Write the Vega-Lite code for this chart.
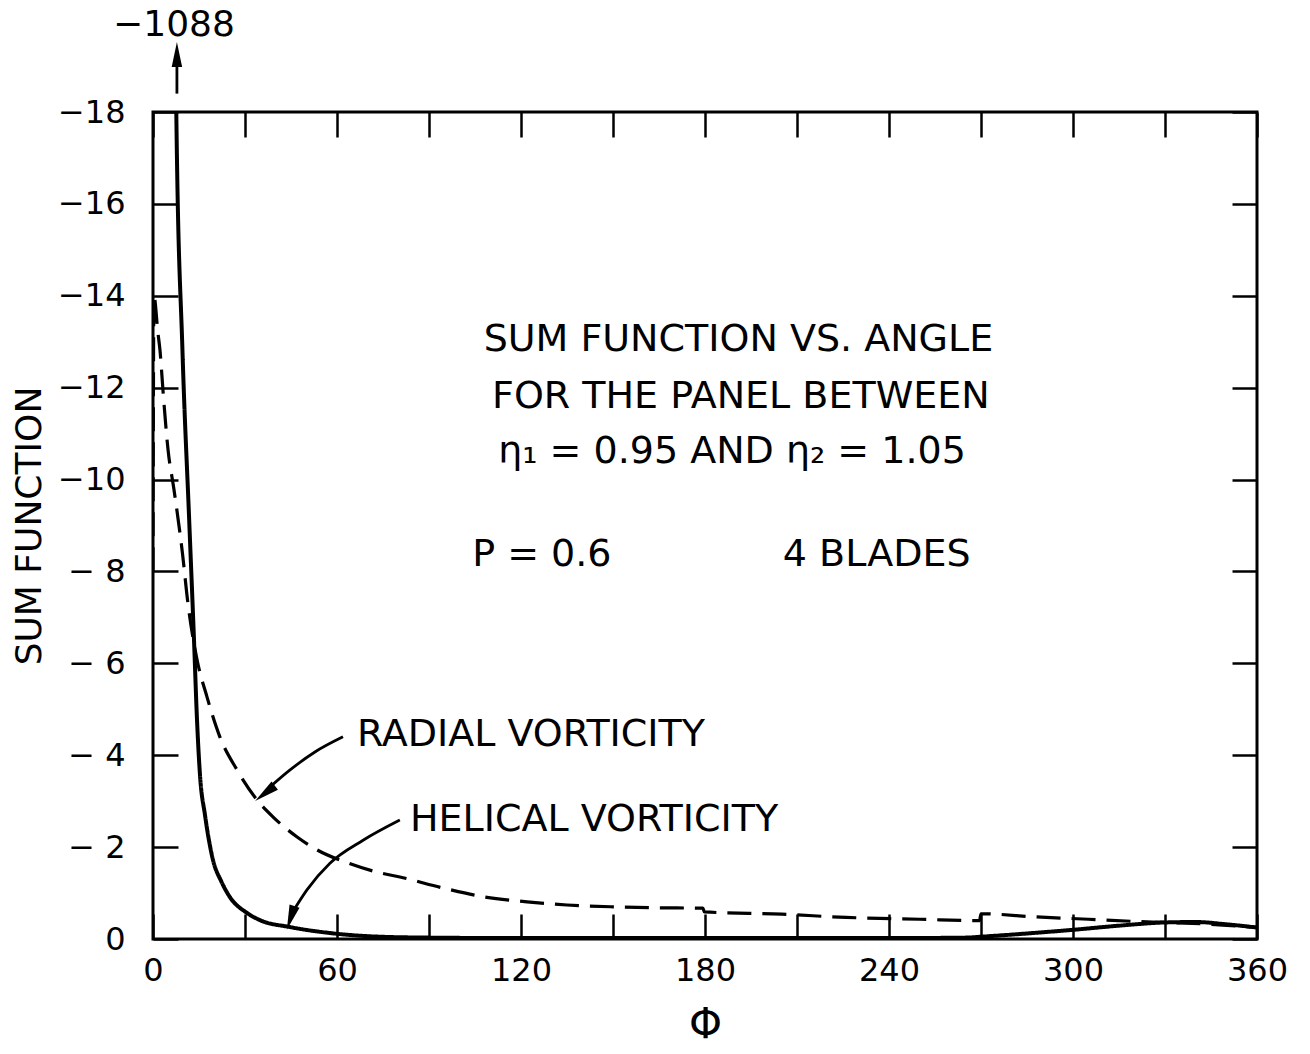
{
  "$schema": "https://vega.github.io/schema/vega-lite/v6.json",
  "width": 1104,
  "height": 827,
  "autosize": {"type": "none"},
  "padding": {"left": 153, "top": 112, "right": 53, "bottom": 115},
  "background": "white",
  "config": {
    "view": {"stroke": "black", "strokeWidth": 3},
    "font": "DejaVu Sans",
    "axis": {
      "domain": false,
      "grid": false,
      "tickColor": "black",
      "tickWidth": 2.5,
      "tickSize": -25,
      "labelFont": "DejaVu Sans",
      "labelFontSize": 32,
      "labelColor": "black",
      "titleFont": "DejaVu Sans",
      "titleFontWeight": "normal",
      "titleColor": "black"
    }
  },
  "datasets": {
    "curves": [
      {"series": "Radial vorticity", "phi": 0, "sf": -8.0},
      {"series": "Radial vorticity", "phi": 0.3, "sf": -14.0},
      {"series": "Radial vorticity", "phi": 1.6, "sf": -13.2},
      {"series": "Radial vorticity", "phi": 2.3, "sf": -12.8},
      {"series": "Radial vorticity", "phi": 3.3, "sf": -11.9},
      {"series": "Radial vorticity", "phi": 4.9, "sf": -10.65},
      {"series": "Radial vorticity", "phi": 6.8, "sf": -9.8},
      {"series": "Radial vorticity", "phi": 9.6, "sf": -8.4},
      {"series": "Radial vorticity", "phi": 11.4, "sf": -7.3},
      {"series": "Radial vorticity", "phi": 14.3, "sf": -6.1},
      {"series": "Radial vorticity", "phi": 17.6, "sf": -5.27},
      {"series": "Radial vorticity", "phi": 21.8, "sf": -4.4},
      {"series": "Radial vorticity", "phi": 27.4, "sf": -3.68},
      {"series": "Radial vorticity", "phi": 33.9, "sf": -3.03},
      {"series": "Radial vorticity", "phi": 39.1, "sf": -2.66},
      {"series": "Radial vorticity", "phi": 47, "sf": -2.22},
      {"series": "Radial vorticity", "phi": 53.5, "sf": -1.94},
      {"series": "Radial vorticity", "phi": 63.3, "sf": -1.66},
      {"series": "Radial vorticity", "phi": 74, "sf": -1.44},
      {"series": "Radial vorticity", "phi": 80.5, "sf": -1.35},
      {"series": "Radial vorticity", "phi": 94.6, "sf": -1.11},
      {"series": "Radial vorticity", "phi": 107.6, "sf": -0.92},
      {"series": "Radial vorticity", "phi": 122, "sf": -0.81},
      {"series": "Radial vorticity", "phi": 135, "sf": -0.74},
      {"series": "Radial vorticity", "phi": 150, "sf": -0.7},
      {"series": "Radial vorticity", "phi": 163, "sf": -0.68},
      {"series": "Radial vorticity", "phi": 179.3, "sf": -0.67},
      {"series": "Radial vorticity", "phi": 179.8, "sf": -0.59},
      {"series": "Radial vorticity", "phi": 205, "sf": -0.54},
      {"series": "Radial vorticity", "phi": 226, "sf": -0.47},
      {"series": "Radial vorticity", "phi": 250, "sf": -0.43},
      {"series": "Radial vorticity", "phi": 269.5, "sf": -0.4},
      {"series": "Radial vorticity", "phi": 270, "sf": -0.55},
      {"series": "Radial vorticity", "phi": 288, "sf": -0.48},
      {"series": "Radial vorticity", "phi": 305, "sf": -0.43},
      {"series": "Radial vorticity", "phi": 321, "sf": -0.38},
      {"series": "Radial vorticity", "phi": 330, "sf": -0.36},
      {"series": "Radial vorticity", "phi": 345, "sf": -0.32},
      {"series": "Radial vorticity", "phi": 360, "sf": -0.25},
      {"series": "Helical vorticity", "phi": 6.8, "sf": -1088},
      {"series": "Helical vorticity", "phi": 7.6, "sf": -17.98},
      {"series": "Helical vorticity", "phi": 9.6, "sf": -12.82},
      {"series": "Helical vorticity", "phi": 11.8, "sf": -9.12},
      {"series": "Helical vorticity", "phi": 13.37, "sf": -6.51},
      {"series": "Helical vorticity", "phi": 14.35, "sf": -4.77},
      {"series": "Helical vorticity", "phi": 15.32, "sf": -3.57},
      {"series": "Helical vorticity", "phi": 16.95, "sf": -2.7},
      {"series": "Helical vorticity", "phi": 19.56, "sf": -1.72},
      {"series": "Helical vorticity", "phi": 22.3, "sf": -1.25},
      {"series": "Helical vorticity", "phi": 25.1, "sf": -0.91},
      {"series": "Helical vorticity", "phi": 30.6, "sf": -0.57},
      {"series": "Helical vorticity", "phi": 34.9, "sf": -0.41},
      {"series": "Helical vorticity", "phi": 44.7, "sf": -0.26},
      {"series": "Helical vorticity", "phi": 57.7, "sf": -0.13},
      {"series": "Helical vorticity", "phi": 74, "sf": -0.05},
      {"series": "Helical vorticity", "phi": 90, "sf": -0.03},
      {"series": "Helical vorticity", "phi": 120, "sf": -0.02},
      {"series": "Helical vorticity", "phi": 180, "sf": -0.02},
      {"series": "Helical vorticity", "phi": 240, "sf": -0.02},
      {"series": "Helical vorticity", "phi": 265, "sf": -0.03},
      {"series": "Helical vorticity", "phi": 270, "sf": -0.05},
      {"series": "Helical vorticity", "phi": 285, "sf": -0.12},
      {"series": "Helical vorticity", "phi": 300, "sf": -0.2},
      {"series": "Helical vorticity", "phi": 315, "sf": -0.29},
      {"series": "Helical vorticity", "phi": 330, "sf": -0.36},
      {"series": "Helical vorticity", "phi": 340, "sf": -0.37},
      {"series": "Helical vorticity", "phi": 350, "sf": -0.32},
      {"series": "Helical vorticity", "phi": 360, "sf": -0.25}
    ],
    "arrows": [
      {"arrow": "radial", "order": 1, "phi": 61.95, "sf": -4.4},
      {"arrow": "radial", "order": 2, "phi": 52.8, "sf": -4.07},
      {"arrow": "radial", "order": 3, "phi": 44.7, "sf": -3.68},
      {"arrow": "radial", "order": 4, "phi": 38.0, "sf": -3.3},
      {"arrow": "helical", "order": 1, "phi": 80.5, "sf": -2.59},
      {"arrow": "helical", "order": 2, "phi": 68.5, "sf": -2.15},
      {"arrow": "helical", "order": 3, "phi": 57.7, "sf": -1.65},
      {"arrow": "helical", "order": 4, "phi": 50.2, "sf": -1.07},
      {"arrow": "helical", "order": 5, "phi": 46.1, "sf": -0.65},
      {"arrow": "peak", "order": 1, "phi": 7.8, "sf": -18.4},
      {"arrow": "peak", "order": 2, "phi": 7.8, "sf": -19.0}
    ],
    "heads": [
      {"arrow": "radial", "phi": 36.5, "sf": -3.17, "angle": 232},
      {"arrow": "helical", "phi": 44.9, "sf": -0.46, "angle": 198},
      {"arrow": "peak", "phi": 7.8, "sf": -19.25, "angle": 0}
    ],
    "centered": [
      {"phi": 190.9, "sf": -13.04, "text": "SUM FUNCTION VS. ANGLE"},
      {"phi": 191.7, "sf": -11.8, "text": "FOR THE PANEL BETWEEN"},
      {"phi": 188.8, "sf": -10.6, "text": "η₁ = 0.95 AND η₂ = 1.05"},
      {"phi": 126.8, "sf": -8.36, "text": "P = 0.6"},
      {"phi": 236.0, "sf": -8.36, "text": "4 BLADES"}
    ],
    "peaklabel": [
      {"phi": 6.85, "sf": -19.9, "text": "−1088"}
    ],
    "leftaligned": [
      {"phi": 66.5, "sf": -4.44, "text": "RADIAL VORTICITY"},
      {"phi": 83.8, "sf": -2.59, "text": "HELICAL VORTICITY"}
    ]
  },
  "layer": [
    {
      "data": {"name": "curves"},
      "mark": {"type": "line", "clip": true, "color": "black", "strokeCap": "butt", "interpolate": "monotone"},
      "encoding": {
        "x": {
          "field": "phi", "type": "quantitative",
          "scale": {"domain": [0, 360], "nice": false, "zero": false},
          "axis": {
            "orient": "bottom",
            "values": [0, 30, 60, 90, 120, 150, 180, 210, 240, 270, 300, 330, 360],
            "labelExpr": "datum.value % 60 == 0 ? datum.label : ''",
            "labelPadding": 41,
            "labelFlush": false,
            "title": "Φ",
            "titleFontSize": 42,
            "titlePadding": 18
          }
        },
        "y": {
          "field": "sf", "type": "quantitative",
          "scale": {"domain": [0, -18], "nice": false, "zero": false},
          "axis": {
            "orient": "left",
            "values": [0, -2, -4, -6, -8, -10, -12, -14, -16, -18],
            "labelExpr": "datum.value == 0 ? '0' : (datum.value > -10 ? '− ' + abs(datum.value) : '−' + abs(datum.value))",
            "labelPadding": 53,
            "labelFlush": false,
            "title": "SUM FUNCTION",
            "titleFontSize": 36,
            "titlePadding": 9
          }
        },
        "strokeDash": {
          "field": "series", "type": "nominal",
          "scale": {"domain": ["Radial vorticity", "Helical vorticity"], "range": [[24, 11], [1, 0]]},
          "legend": null
        },
        "strokeWidth": {
          "field": "series", "type": "nominal",
          "scale": {"domain": ["Radial vorticity", "Helical vorticity"], "range": [3.2, 4]},
          "legend": null
        }
      }
    },
    {
      "data": {"name": "arrows"},
      "mark": {"type": "line", "color": "black", "strokeWidth": 2.8, "interpolate": "monotone"},
      "encoding": {
        "x": {"field": "phi", "type": "quantitative", "axis": null},
        "y": {"field": "sf", "type": "quantitative", "axis": null},
        "detail": {"field": "arrow"},
        "order": {"field": "order"}
      }
    },
    {
      "data": {"name": "heads"},
      "mark": {"type": "point", "shape": "M0,-1L0.42,1L-0.42,1Z", "filled": true, "color": "black", "size": 620, "opacity": 1, "strokeWidth": 0},
      "encoding": {
        "x": {"field": "phi", "type": "quantitative", "axis": null},
        "y": {"field": "sf", "type": "quantitative", "axis": null},
        "angle": {"field": "angle", "type": "quantitative", "scale": {"domain": [0, 360], "range": [0, 360]}}
      }
    },
    {
      "data": {"name": "centered"},
      "mark": {"type": "text", "font": "DejaVu Sans", "fontSize": 38, "align": "center", "baseline": "middle", "color": "black"},
      "encoding": {
        "x": {"field": "phi", "type": "quantitative",
          "axis": {"orient": "top", "values": [0, 30, 60, 90, 120, 150, 180, 210, 240, 270, 300, 330, 360], "labels": false, "title": null}},
        "y": {"field": "sf", "type": "quantitative",
          "axis": {"orient": "right", "values": [0, -2, -4, -6, -8, -10, -12, -14, -16, -18], "labels": false, "title": null}},
        "text": {"field": "text"}
      }
    },
    {
      "data": {"name": "peaklabel"},
      "mark": {"type": "text", "font": "DejaVu Sans", "fontSize": 36, "align": "center", "baseline": "middle", "color": "black"},
      "encoding": {
        "x": {"field": "phi", "type": "quantitative", "axis": null},
        "y": {"field": "sf", "type": "quantitative", "axis": null},
        "text": {"field": "text"}
      }
    },
    {
      "data": {"name": "leftaligned"},
      "mark": {"type": "text", "font": "DejaVu Sans", "fontSize": 38, "align": "left", "baseline": "middle", "color": "black"},
      "encoding": {
        "x": {"field": "phi", "type": "quantitative", "axis": null},
        "y": {"field": "sf", "type": "quantitative", "axis": null},
        "text": {"field": "text"}
      }
    }
  ]
}
